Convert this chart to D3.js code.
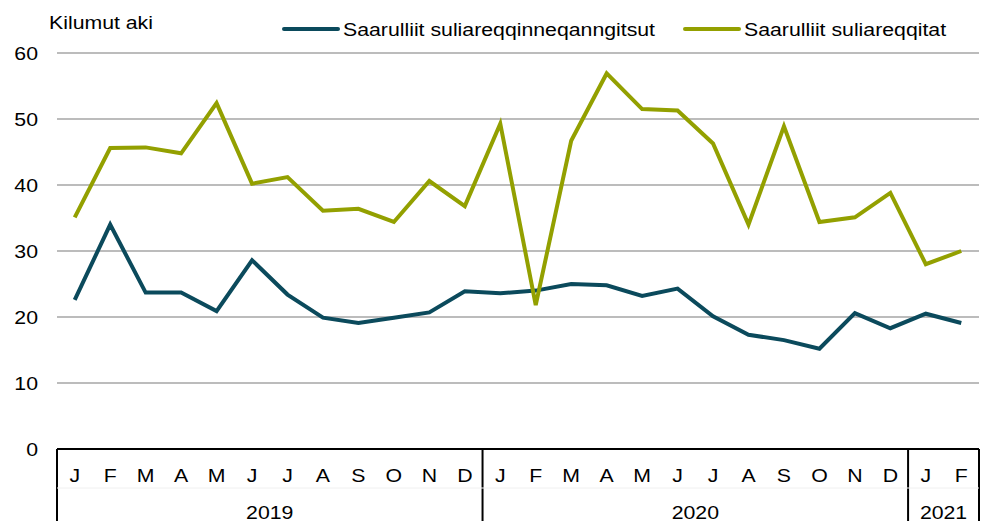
<!DOCTYPE html>
<html><head><meta charset="utf-8">
<script src="https://cdn.jsdelivr.net/npm/d3@7"></script>
<style>body{margin:0;background:#fff}svg{display:block;font-family:"Liberation Sans",Arial,sans-serif}</style>
</head><body><svg id="c" width="989" height="521"></svg>
<script>
const months = ["J","F","M","A","M","J","J","A","S","O","N","D","J","F","M","A","M","J","J","A","S","O","N","D","J","F"];
const years = [{label:"2019",start:0,count:12},{label:"2020",start:12,count:12},{label:"2021",start:24,count:2}];
const seriesNames = ["Saarulliit suliareqqinneqanngitsut","Saarulliit suliareqqitat"];
const notProcessed = [22.6,34.0,23.7,23.7,20.9,28.6,23.4,19.9,19.1,19.9,20.7,23.9,23.6,24.0,25.0,24.8,23.2,24.3,20.1,17.3,16.5,15.2,20.6,18.3,20.5,19.1];
const processed = [35.1,45.6,45.7,44.8,52.4,40.2,41.2,36.1,36.4,34.4,40.6,36.8,49.3,21.8,46.7,56.9,51.5,51.3,46.3,34.0,48.9,34.4,35.1,38.8,28.0,30.0];
const yTicks = [0,10,20,30,40,50,60];
const colors = ["#0b4a5c","#93a000"];
const yLabel = "Kilumut aki";

const svg = d3.select("#c");
const L=57,R=979,T=53,B=449;
const FS=18.5, SX=1.15;
const x = d3.scaleBand().domain(d3.range(months.length)).range([L,R]);
const y = d3.scaleLinear().domain([0,60]).range([B,T]);

function txt(g, px, py, s, anchor){
  return g.append("text").attr("transform",`translate(${px},${py}) scale(${SX},1)`)
    .attr("text-anchor",anchor||"start").attr("font-size",FS).attr("fill","#000").text(s);
}

// gridlines
svg.append("g").selectAll("line").data(yTicks.filter(d=>d>0)).join("line")
  .attr("x1",L).attr("x2",R).attr("y1",d=>y(d)).attr("y2",d=>y(d))
  .attr("stroke","#a6a6a6").attr("stroke-width",1.5);

// y tick labels
const yl = svg.append("g");
yTicks.forEach(d=>txt(yl,38,y(d)+6.7,d,"end"));

txt(svg,49,29,yLabel);

// x axis
svg.append("line").attr("x1",L).attr("x2",R).attr("y1",B).attr("y2",B).attr("stroke","#000").attr("stroke-width",2);
const seps = [0,12,24].map(i=>x(i)).concat([R]);
svg.append("g").selectAll("line").data(seps).join("line")
  .attr("x1",d=>d).attr("x2",d=>d).attr("y1",B).attr("y2",521).attr("stroke","#000").attr("stroke-width",2);
svg.append("line").attr("x1",L).attr("x2",R).attr("y1",488).attr("y2",488).attr("stroke","#f0f0f0").attr("stroke-width",1);

const ml = svg.append("g");
months.forEach((d,i)=>txt(ml,x(i)+x.bandwidth()/2,481.5,d,"middle"));
const yrl = svg.append("g");
years.forEach(d=>txt(yrl,(x(d.start)+x(d.start+d.count-1)+x.bandwidth())/2,518.5,d.label,"middle"));

// lines
const line = d3.line().x((d,i)=>x(i)+x.bandwidth()/2).y(d=>y(d));
[notProcessed,processed].forEach((s,k)=>{
  svg.append("path").datum(s).attr("d",line).attr("fill","none")
    .attr("stroke",colors[k]).attr("stroke-width",4).attr("stroke-linejoin","miter");
});

// legend
const leg = [{x:284,name:seriesNames[0],c:colors[0]},{x:685,name:seriesNames[1],c:colors[1]}];
leg.forEach(l=>{
  svg.append("line").attr("x1",l.x).attr("x2",l.x+54).attr("y1",29).attr("y2",29)
    .attr("stroke",l.c).attr("stroke-width",4).attr("stroke-linecap","round");
  txt(svg,l.x+59,35.7,l.name);
});
</script></body></html>
